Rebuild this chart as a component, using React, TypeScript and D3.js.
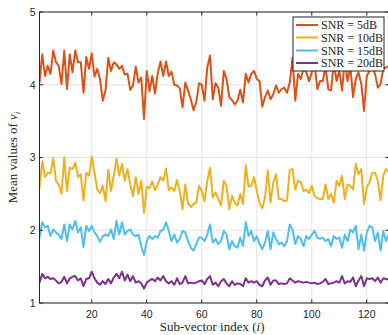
import React from "react";
import * as d3 from "d3";

const xTicks = [20, 40, 60, 80, 100, 120];
const yTicks = [1, 2, 3, 4, 5];
const seriesNames = ["SNR = 5dB", "SNR = 10dB", "SNR = 15dB", "SNR = 20dB"];
const colors = ["#D95319", "#EDB120", "#4DBEEE", "#7E2F8E"];

const snr5 = [
  4.03,4.42,4.12,4.26,4.15,4.47,4.31,4.26,4.01,4.47,
  3.94,4.42,4.17,4.47,4.31,4.31,3.89,4.38,4.22,4.43,
  4.11,4.22,4.08,3.78,3.92,4.37,4.19,4.31,4.28,4.22,
  4.26,4.14,4.15,3.93,3.99,4.25,4.03,4.10,3.53,4.19,
  3.91,4.12,3.88,4.16,4.32,4.12,4.32,4.12,4.18,4.00,
  3.99,3.95,3.69,4.03,3.92,3.80,3.65,3.76,4.02,4.00,
  3.78,4.24,4.40,3.80,4.02,3.96,3.71,4.19,4.08,3.83,
  3.79,3.73,3.78,3.93,3.76,4.15,4.03,4.15,4.19,4.08,
  4.05,3.70,3.83,3.92,3.80,3.87,3.99,3.89,3.94,3.96,
  3.89,4.03,4.37,3.78,4.15,4.08,4.22,4.17,4.05,4.17,
  4.30,3.94,4.05,4.05,4.25,3.94,3.92,4.30,4.05,4.20,
  3.92,4.35,4.05,4.25,3.83,4.08,4.17,4.01,3.64,4.12,
  4.19,4.24,4.15,3.96,4.01,4.22,4.24,4.26,
];
const snr10 = [
  2.58,2.95,2.73,2.79,2.78,2.99,2.68,2.63,2.50,3.00,
  2.54,2.86,2.84,2.93,2.73,2.77,2.41,2.79,2.75,3.01,
  2.79,2.56,2.51,2.61,2.40,2.83,2.54,2.75,2.98,2.75,
  2.91,2.68,2.84,2.63,2.47,2.73,2.50,2.68,2.24,2.60,
  2.58,2.67,2.55,2.63,2.73,2.68,2.85,2.55,2.59,2.54,
  2.69,2.54,2.29,2.63,2.37,2.32,2.36,2.38,2.61,2.54,
  2.40,2.68,2.86,2.45,2.52,2.43,2.34,2.68,2.61,2.29,
  2.47,2.38,2.34,2.50,2.36,2.89,2.60,2.61,2.73,2.54,
  2.38,2.30,2.45,2.82,2.38,2.66,2.77,2.43,2.43,2.40,
  2.41,2.83,2.84,2.56,2.68,2.66,2.54,2.56,2.51,2.61,
  2.47,2.44,2.43,2.43,2.63,2.43,2.50,2.38,2.68,2.61,
  2.75,2.43,2.63,2.61,2.56,2.91,2.77,2.84,2.36,2.59,
  2.66,2.79,2.79,2.68,2.41,2.75,2.84,2.80,
];
const snr15 = [
  1.90,2.11,2.04,2.06,1.92,2.01,1.97,1.94,1.88,2.08,
  1.85,2.08,2.01,2.13,1.97,2.04,1.77,2.06,1.99,2.06,
  1.97,1.92,1.84,1.92,1.94,1.92,2.01,1.88,2.13,1.94,
  2.11,1.94,1.99,2.01,1.94,1.92,1.94,1.78,1.66,1.85,
  1.92,1.88,1.92,1.90,1.99,2.01,2.11,1.99,1.85,1.94,
  1.83,1.88,1.99,1.97,1.85,1.76,1.72,1.81,1.90,1.90,
  1.85,1.94,2.08,1.83,1.88,1.81,1.85,1.99,1.94,1.74,
  1.85,1.78,1.76,1.90,1.78,2.11,1.92,1.99,1.85,1.92,
  1.81,1.74,1.83,1.99,1.74,1.97,1.88,1.81,1.83,1.78,
  1.85,2.08,2.01,1.81,1.92,1.88,1.78,1.92,1.88,1.94,
  1.99,1.90,1.88,1.90,1.85,1.88,1.78,1.92,1.88,1.90,
  1.76,1.94,1.85,2.01,1.97,2.06,1.74,1.94,1.72,1.97,
  2.06,2.04,1.85,1.97,1.72,1.99,1.85,1.95,
];
const snr20 = [
  1.28,1.40,1.34,1.36,1.33,1.34,1.31,1.27,1.29,1.36,
  1.27,1.34,1.36,1.37,1.31,1.34,1.23,1.33,1.34,1.43,
  1.34,1.28,1.25,1.30,1.26,1.33,1.27,1.35,1.40,1.34,
  1.43,1.31,1.39,1.30,1.37,1.28,1.30,1.27,1.20,1.28,
  1.31,1.33,1.30,1.35,1.31,1.37,1.30,1.27,1.30,1.25,
  1.34,1.26,1.28,1.37,1.27,1.28,1.27,1.28,1.30,1.31,
  1.26,1.33,1.37,1.25,1.28,1.23,1.30,1.33,1.27,1.23,
  1.30,1.25,1.27,1.26,1.23,1.34,1.28,1.30,1.28,1.30,
  1.25,1.23,1.31,1.35,1.25,1.31,1.31,1.26,1.27,1.26,
  1.27,1.34,1.31,1.28,1.30,1.29,1.28,1.29,1.28,1.27,
  1.28,1.26,1.27,1.29,1.33,1.26,1.27,1.28,1.30,1.28,
  1.37,1.27,1.30,1.29,1.35,1.23,1.31,1.37,1.23,1.34,
  1.33,1.34,1.30,1.35,1.28,1.34,1.33,1.32,
];

const allSeries = [snr5, snr10, snr15, snr20];

export default function App() {
  const W = 388, H = 335;
  const left = 39.5, right = 388.8, top = 12, bottom = 303;
  const x = d3.scaleLinear().domain([1, 128]).range([left, right]);
  const y = d3.scaleLinear().domain([1, 5]).range([bottom, top]);
  const line = d3.line<number>().x((_, i) => x(i + 1)).y((d) => y(d));
  const axisColor = "#262626";
  const gridColor = "#e3e3e3";
  const tl = 3.5;
  const tickFont = "'Liberation Sans', Arial, sans-serif";
  const serif = "'Liberation Serif', 'DejaVu Serif', serif";

  const lg = { x0: 293, y0: 17, x1: 384, y1: 71 };
  const rowY = [25, 37.5, 50.5, 63];

  return (
    <svg width={W} height={H} style={{ position: "absolute", left: 0, top: 0, background: "#fff" }}>
      <rect x={0} y={0} width={W} height={H} fill="#fff" />
      <defs>
        <clipPath id="plotclip">
          <rect x={left} y={top} width={right - left} height={bottom - top} />
        </clipPath>
      </defs>
      {xTicks.map((t) => (
        <line key={"gx" + t} x1={x(t)} x2={x(t)} y1={top} y2={bottom} stroke={gridColor} strokeWidth={1} />
      ))}
      {yTicks.map((t) => (
        <line key={"gy" + t} x1={left} x2={right} y1={y(t)} y2={y(t)} stroke={gridColor} strokeWidth={1} />
      ))}
      <g clipPath="url(#plotclip)">
        {allSeries.map((s, k) => (
          <path key={k} d={line(s) || ""} fill="none" stroke={colors[k]} strokeWidth={2} strokeLinejoin="round" />
        ))}
      </g>
      <rect x={left} y={top} width={right - left} height={bottom - top} fill="none" stroke={axisColor} strokeWidth={1} />
      {xTicks.map((t) => (
        <g key={"tx" + t}>
          <line x1={x(t)} x2={x(t)} y1={bottom} y2={bottom - tl} stroke={axisColor} />
          <line x1={x(t)} x2={x(t)} y1={top} y2={top + tl} stroke={axisColor} />
          <text x={x(t)} y={bottom + 15} textAnchor="middle" fontFamily={tickFont} fontSize={10.5} fill={axisColor}>
            {t}
          </text>
        </g>
      ))}
      {yTicks.map((t) => (
        <g key={"ty" + t}>
          <line x1={left} x2={left + tl} y1={y(t)} y2={y(t)} stroke={axisColor} />
          <line x1={right} x2={right - tl} y1={y(t)} y2={y(t)} stroke={axisColor} />
          <text x={left - 4} y={y(t) + 3.8} textAnchor="end" fontFamily={tickFont} fontSize={10.5} fill={axisColor}>
            {t}
          </text>
        </g>
      ))}
      <text x={(left + right) / 2 - 2} y={331} textAnchor="middle" fontFamily={serif} fontSize={13} fill={axisColor}>
        Sub-vector index (<tspan fontStyle="italic">i</tspan>)
      </text>
      <text
        transform={`translate(17, ${(top + bottom) / 2}) rotate(-90)`}
        textAnchor="middle"
        fontFamily={serif}
        fontSize={13}
        fill={axisColor}
      >
        Mean values of <tspan fontStyle="italic">v</tspan>
        <tspan fontStyle="italic" fontSize={9} dy={3}>i</tspan>
      </text>
      <rect x={lg.x0} y={lg.y0} width={lg.x1 - lg.x0} height={lg.y1 - lg.y0} fill="#fff" stroke={axisColor} strokeWidth={1} />
      {seriesNames.map((n, k) => (
        <g key={n}>
          <line x1={296} x2={318} y1={rowY[k]} y2={rowY[k]} stroke={colors[k]} strokeWidth={2} />
          <text x={321} y={rowY[k] + 4} fontFamily={serif} fontSize={12} fill={axisColor}>
            {n}
          </text>
        </g>
      ))}
    </svg>
  );
}
